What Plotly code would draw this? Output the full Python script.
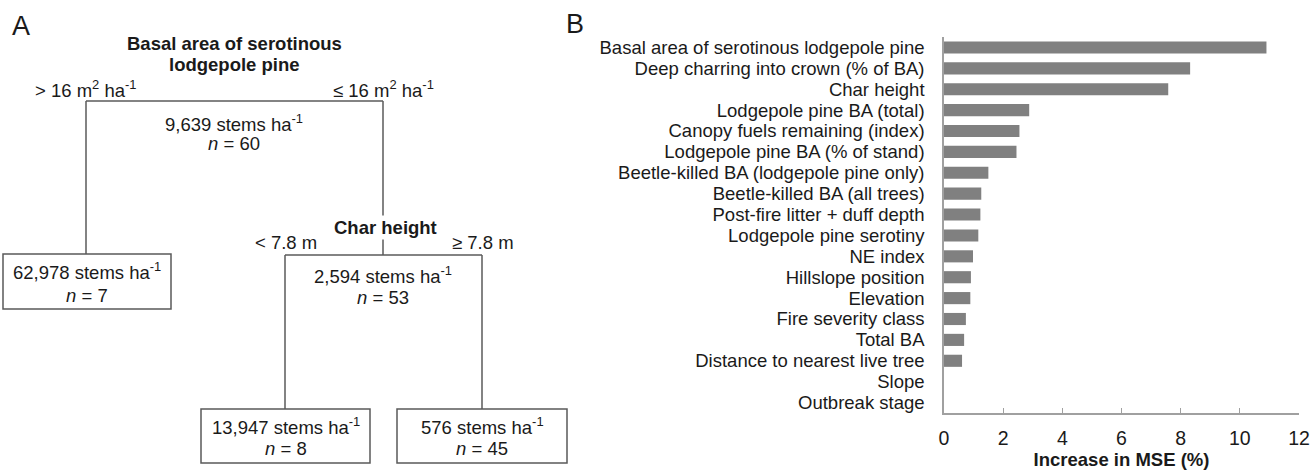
import plotly.graph_objects as go

# ---------------- Panel B data ----------------
features = [
    "Basal area of serotinous lodgepole pine",
    "Deep charring into crown (% of BA)",
    "Char height",
    "Lodgepole pine BA (total)",
    "Canopy fuels remaining (index)",
    "Lodgepole pine BA (% of stand)",
    "Beetle-killed BA (lodgepole pine only)",
    "Beetle-killed BA (all trees)",
    "Post-fire litter + duff depth",
    "Lodgepole pine serotiny",
    "NE index",
    "Hillslope position",
    "Elevation",
    "Fire severity class",
    "Total BA",
    "Distance to nearest live tree",
    "Slope",
    "Outbreak stage",
]
mse_increase = [10.9, 8.32, 7.58, 2.88, 2.55, 2.45, 1.50, 1.26, 1.23, 1.16,
                0.98, 0.91, 0.89, 0.74, 0.68, 0.61, 0.0, 0.0]
x_ticks = [0, 2, 4, 6, 8, 10, 12]

# ---------------- Panel A data (regression tree) ----------------
split_names = ["Basal area of serotinous", "lodgepole pine", "Char height"]
split_rules = ["> 16 m<sup>2</sup> ha<sup>-1</sup>", "≤ 16 m<sup>2</sup> ha<sup>-1</sup>",
               "< 7.8 m", "≥ 7.8 m"]
node_density = ["9,639", "62,978", "2,594", "13,947", "576"]
node_n = [60, 7, 53, 8, 45]

W, H = 1310, 470
PA = 600  # width of panel A drawing area (px)
FONT = "Arial, Liberation Sans, sans-serif"
TXT = "#1a1a1a"
LINE = "#5a5a5a"
TS = 18.5  # tree font size

fig = go.Figure()

fig.add_trace(go.Bar(
    x=mse_increase, y=features, orientation="h",
    marker=dict(color="#808080", line=dict(width=0)),
    width=0.58, xaxis="x", yaxis="y", showlegend=False,
))

# invisible trace to activate panel A axes
fig.add_trace(go.Scatter(x=[0], y=[0], mode="markers", marker=dict(opacity=0),
                         xaxis="x2", yaxis="y2", showlegend=False, hoverinfo="skip"))

shapes = []
annotations = []

def line(x0, y0, x1, y1):
    shapes.append(dict(type="line", xref="x2", yref="y2", x0=x0, y0=y0, x1=x1, y1=y1,
                       line=dict(color=LINE, width=1.5)))

def rect(x0, y0, x1, y1):
    shapes.append(dict(type="rect", xref="x2", yref="y2", x0=x0, y0=y0, x1=x1, y1=y1,
                       line=dict(color=LINE, width=1.5), fillcolor="rgba(0,0,0,0)"))

def text(x, y, s, size=TS, bold=False, bg=None, xanchor="center"):
    a = dict(xref="x2", yref="y2", x=x, y=y, text=(f"<b>{s}</b>" if bold else s),
             showarrow=False, xanchor=xanchor, yanchor="middle",
             font=dict(family=FONT, size=size, color=TXT))
    if bg:
        a["bgcolor"] = bg
    annotations.append(a)

# tree layout (pixel positions of the diagram)
root_l, root_r, root_y = 86, 383, 101
char_l, char_r, char_y = 285, 482, 255
leaf_y0, leaf_y1 = 409, 463

line(root_l, root_y, root_r, root_y)
line(root_l, root_y, root_l, 254)
line(root_r, root_y, root_r, char_y)
rect(3, 254, 171, 309)
line(char_l, char_y, char_r, char_y)
line(char_l, char_y, char_l, leaf_y0)
line(char_r, char_y, char_r, leaf_y0)
rect(201, leaf_y0, 370, leaf_y1)
rect(397, leaf_y0, 567, leaf_y1)

text(234, 43, split_names[0], bold=True)
text(234, 64, split_names[1], bold=True)
text(86, 89, split_rules[0])
text(383, 89, split_rules[1])
text(234, 123, f"{node_density[0]} stems ha<sup>-1</sup>")
text(234, 143, f"<i>n</i> = {node_n[0]}")

text(87, 271, f"{node_density[1]} stems ha<sup>-1</sup>")
text(87, 295, f"<i>n</i> = {node_n[1]}")

text(385, 227, split_names[2], bold=True, bg="white")
text(286, 242, split_rules[2])
text(483, 242, split_rules[3])
text(383, 275, f"{node_density[2]} stems ha<sup>-1</sup>")
text(383, 297, f"<i>n</i> = {node_n[2]}")

text(286, 426, f"{node_density[3]} stems ha<sup>-1</sup>")
text(286, 448, f"<i>n</i> = {node_n[3]}")
text(482, 426, f"{node_density[4]} stems ha<sup>-1</sup>")
text(482, 448, f"<i>n</i> = {node_n[4]}")

# panel letters
annotations.append(dict(xref="paper", yref="paper", x=10 / W, y=1 - 26 / H, text="A",
                        showarrow=False, xanchor="left", yanchor="middle",
                        font=dict(family=FONT, size=27, color=TXT)))
annotations.append(dict(xref="paper", yref="paper", x=564 / W, y=1 - 24 / H, text="B",
                        showarrow=False, xanchor="left", yanchor="middle",
                        font=dict(family=FONT, size=27, color=TXT)))

fig.update_layout(
    width=W, height=H,
    margin=dict(l=0, r=0, t=0, b=0, autoexpand=False),
    paper_bgcolor="white", plot_bgcolor="rgba(0,0,0,0)",
    font=dict(family=FONT, color=TXT, size=18),
    xaxis=dict(domain=[944 / W, 1299 / W], range=[0, 12], tickvals=x_ticks,
               ticks="inside", ticklen=5, tickcolor="#a0a0a0", showline=True,
               linecolor="#a0a0a0", linewidth=1.5, showgrid=False, zeroline=False,
               tickfont=dict(size=19.5, color=TXT), ticklabelstandoff=7,
               title=dict(text="<b>Increase in MSE (%)</b>", font=dict(size=18.5, color=TXT),
                          standoff=5),
               anchor="y", fixedrange=True, automargin=False),
    yaxis=dict(domain=[1 - 413 / H, 1 - 37 / H], range=[17.5, -0.5],
               tickmode="array", tickvals=features, ticktext=features,
               showline=True, linecolor="#a0a0a0", linewidth=1.5, ticks="",
               showgrid=False, zeroline=False, tickfont=dict(size=18.5, color=TXT),
               ticklabelstandoff=14, anchor="x", fixedrange=True, automargin=False),
    xaxis2=dict(domain=[0, PA / W], range=[0, PA], visible=False, anchor="y2",
                fixedrange=True, automargin=False),
    yaxis2=dict(domain=[0, 1], range=[H, 0], visible=False, anchor="x2",
                fixedrange=True, automargin=False),
    shapes=shapes,
    annotations=annotations,
)

fig.write_html("out.html", config={"displayModeBar": False},
               post_script="document.body.style.margin='0';")
